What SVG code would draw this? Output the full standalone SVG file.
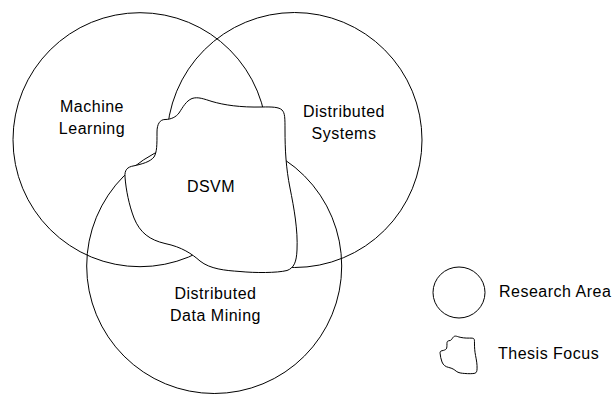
<svg xmlns="http://www.w3.org/2000/svg" xmlns:xlink="http://www.w3.org/1999/xlink" width="614" height="394" viewBox="0 0 614 394">
  <style>
    .area { fill: none; stroke: #000; stroke-width: 1; }
    .focus { fill: #fff; stroke: #000; stroke-width: 1; }
    .focus-small { fill: #fff; stroke: #000; stroke-width: 4.65; }
    .label { font-family: "Liberation Sans", Arial, sans-serif; font-size: 16px; letter-spacing: 0.5px; fill: #000; }
    .mid { text-anchor: middle; }
  </style>
  <defs>
    <!-- irregular outline used for the thesis focus region -->
    <path id="blob" d="M 165,119.5 C 171,119.5 176,117 179,113 C 183,107 186,101 192,98.5 C 198,96.5 204,99 212,101.5 C 224,105 240,107.5 262,107 C 272,106.8 279,107 282,110 C 285,113 285,118 285,130 C 285,150 286,168 290,188 C 294,208 298,230 297,250 C 296.5,262 294,268 287,270.5 C 277,273 255,273 240,271.5 C 225,270.5 210,269 200,261 C 192,254 182,247 165,243.5 C 150,240 140,233 134,218 C 129,205 126,190 125,177 C 124.5,170 127,167 134,165.8 C 142,164 150,162 154,157 C 157,152 157,145 157,132 C 157,124 160,119.5 165,119.5 Z"/>
  </defs>

  <rect width="614" height="394" fill="#fff"/>

  <g id="machine-learning">
    <circle class="area" cx="140" cy="139.7" r="127"/>
    <text class="label mid" x="92" y="112">Machine</text>
    <text class="label mid" x="92" y="134">Learning</text>
  </g>

  <g id="distributed-systems">
    <circle class="area" cx="294.5" cy="140" r="127.5"/>
    <text class="label mid" x="344" y="116.5">Distributed</text>
    <text class="label mid" x="344" y="138.5">Systems</text>
  </g>

  <g id="distributed-data-mining">
    <circle class="area" cx="214.2" cy="266" r="127.5"/>
    <text class="label mid" x="215.5" y="299">Distributed</text>
    <text class="label mid" x="215.5" y="320.5">Data Mining</text>
  </g>

  <g id="dsvm">
    <use xlink:href="#blob" class="focus"/>
    <text class="label mid" x="211" y="192">DSVM</text>
  </g>

  <g id="legend-research-area">
    <ellipse class="area" cx="459" cy="292.5" rx="26" ry="25.5"/>
    <text class="label" x="499" y="297">Research Area</text>
  </g>

  <g id="legend-thesis-focus">
    <use xlink:href="#blob" class="focus-small" transform="translate(413.2,315.1) scale(0.215)"/>
    <text class="label" x="498" y="359">Thesis Focus</text>
  </g>

  <g id="connectors"/>
</svg>
